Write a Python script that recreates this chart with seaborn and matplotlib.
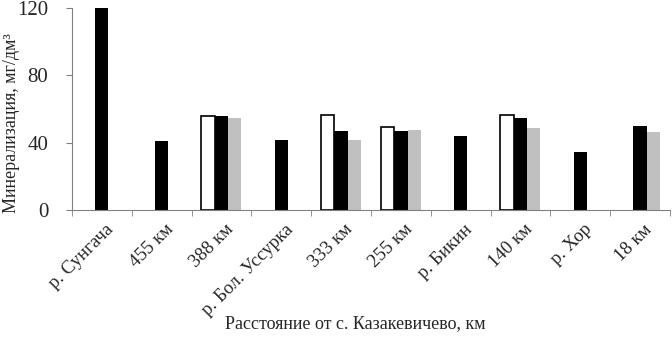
import numpy as np
import pandas as pd
import matplotlib
matplotlib.use("Agg")
import matplotlib.pyplot as plt
import matplotlib.transforms as mtransforms
import seaborn as sns

# Sampling points along the river
sites = ["р. Сунгача", "455 км", "388 км", "р. Бол. Уссурка", "333 км",
         "255 км", "р. Бикин", "140 км", "р. Хор", "18 км"]

# Three sampling series (white, black, grey bars); NaN = no measurement
series_names = ["Серия 1", "Серия 2", "Серия 3"]
white_vals = [np.nan, np.nan, 55.5, np.nan, 56.1, 49.4, np.nan, 56.1, np.nan, np.nan]
black_vals = [120.0, 40.8, 55.5, 41.3, 46.7, 46.7, 43.8, 54.9, 34.2, 49.7]
grey_vals = [np.nan, np.nan, 54.8, np.nan, 41.4, 47.6, np.nan, 48.4, np.nan, 46.0]

y_ticks = [0, 40, 80, 120]

df = pd.DataFrame({
    "site": sites * 3,
    "series": [series_names[0]] * 10 + [series_names[1]] * 10 + [series_names[2]] * 10,
    "value": white_vals + black_vals + grey_vals,
})

sns.set_style("ticks")
plt.rcParams["font.family"] = ["Liberation Serif", "DejaVu Serif"]

fig, ax = plt.subplots(figsize=(6.72, 3.48), dpi=100)
fig.subplots_adjust(left=0.107, right=0.997, top=0.977, bottom=0.397)

sns.barplot(data=df, x="site", y="value", hue="series", order=sites,
            hue_order=series_names, palette=["#ffffff", "#000000", "#c0c0c0"],
            width=0.67, gap=0, linewidth=0, legend=False, ax=ax)

# white bars get a black outline
for bar in ax.containers[0]:
    bar.set_edgecolor("black")
    bar.set_linewidth(1.2)

ax.set_ylim(0, 120)
ax.set_xlim(-0.5, len(sites) - 0.5)
ax.set_yticks(y_ticks)
ax.tick_params(axis="y", labelsize=15, length=4, pad=13, color="#808080")

ax.set_xticks(range(len(sites)))
ax.set_xticklabels(sites, rotation=45, ha="right", rotation_mode="anchor", fontsize=13.5)
ax.tick_params(axis="x", which="major", length=0, pad=8)
shift = mtransforms.ScaledTranslation(3 / 100, 0, fig.dpi_scale_trans)
for lbl in ax.get_xticklabels():
    lbl.set_transform(lbl.get_transform() + shift)
ax.set_xticks(np.arange(-0.5, len(sites), 1.0), minor=True)
ax.tick_params(axis="x", which="minor", length=4, color="#808080")

for side in ["top", "right"]:
    ax.spines[side].set_visible(False)
for side in ["left", "bottom"]:
    ax.spines[side].set_color("#808080")

ax.set_ylabel("Минерализация, мг/дм³", fontsize=13)
ax.yaxis.set_label_coords(-0.087, 0.43)
ax.set_xlabel("Расстояние от с. Казакевичево, км", fontsize=13)
ax.xaxis.set_label_coords(0.473, -0.52)

plt.savefig("out.png", dpi=100)
